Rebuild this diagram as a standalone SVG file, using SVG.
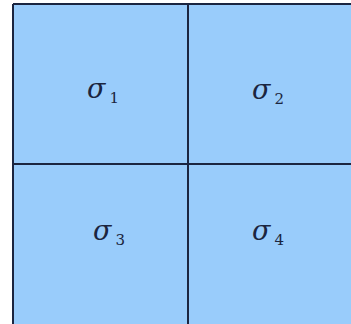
<svg xmlns="http://www.w3.org/2000/svg" width="351" height="324" viewBox="0 0 351 324">
<style>
.cell{fill:#99ccfb;stroke:none}
.ln{stroke:#1b2540;stroke-width:2;fill:none}
.sig{font-family:"DejaVu Serif","Liberation Serif",serif;font-style:italic;font-size:27px;fill:#1b2540}
.sub{font-family:"DejaVu Serif","Liberation Serif",serif;font-size:15px;fill:#1b2540}
</style>
<rect width="351" height="324" fill="#ffffff"/>
<g id="cell1"><rect class="cell" x="13" y="4" width="175" height="160"/><text x="87" y="98"><tspan class="sig">σ</tspan><tspan class="sub" dx="4" dy="5">1</tspan></text></g>
<g id="cell2"><rect class="cell" x="188" y="4" width="163" height="160"/><text x="252" y="99"><tspan class="sig">σ</tspan><tspan class="sub" dx="4" dy="5">2</tspan></text></g>
<g id="cell3"><rect class="cell" x="13" y="164" width="175" height="160"/><text x="93" y="240"><tspan class="sig">σ</tspan><tspan class="sub" dx="4" dy="5">3</tspan></text></g>
<g id="cell4"><rect class="cell" x="188" y="164" width="163" height="160"/><text x="252" y="240"><tspan class="sig">σ</tspan><tspan class="sub" dx="4" dy="5">4</tspan></text></g>
<g id="connectors">
<line class="ln" x1="13" y1="4" x2="351" y2="4"/>
<line class="ln" x1="13" y1="4" x2="13" y2="324"/>
<line class="ln" x1="188" y1="4" x2="188" y2="324"/>
<line class="ln" x1="13" y1="164" x2="351" y2="164"/>
</g>
</svg>
